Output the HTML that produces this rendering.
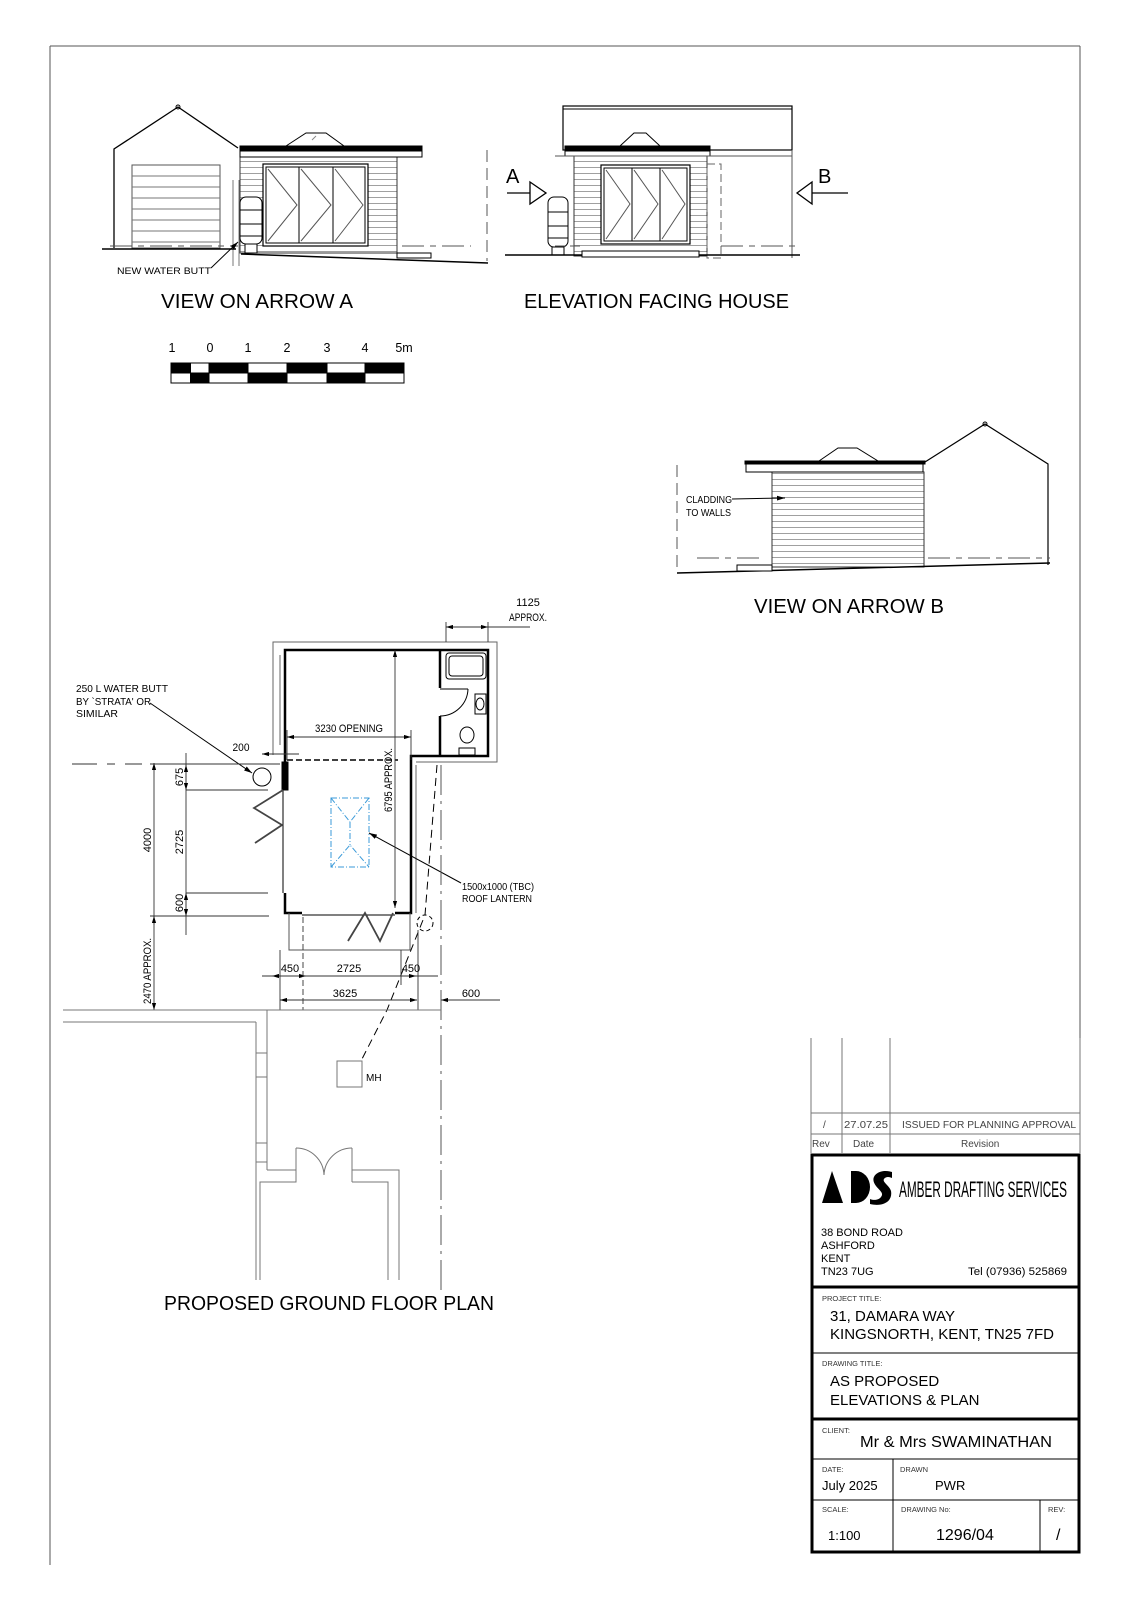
<!DOCTYPE html>
<html><head><meta charset="utf-8"><style>html,body{margin:0;padding:0;background:#fff}svg{display:block}</style></head>
<body>
<svg width="1131" height="1600" viewBox="0 0 1131 1600" xmlns="http://www.w3.org/2000/svg" font-family="'Liberation Sans', sans-serif">
<defs>
<pattern id="clad" width="6" height="6" patternUnits="userSpaceOnUse"><rect width="6" height="6" fill="#fff"/><line x1="0" y1="5.5" x2="6" y2="5.5" stroke="#888" stroke-width="0.8"/></pattern>
<marker id="ar" viewBox="0 0 10 6" refX="10" refY="3" markerWidth="8" markerHeight="5" orient="auto-start-reverse"><path d="M0,0 L10,3 L0,6z" fill="#000"/></marker>
</defs>
<rect width="1131" height="1600" fill="#fff"/>
<g stroke="#555" stroke-width="1" fill="none">
<line x1="50" y1="46" x2="1080" y2="46"/><line x1="50" y1="46" x2="50" y2="1565"/><line x1="1080" y1="46" x2="1080" y2="1038"/>
</g>

<!-- VIEW ON ARROW A -->
<g stroke="#000" fill="none" stroke-width="1">
<polyline points="114,248 114,149 178,107 238,148" stroke-width="1.3"/>
<circle cx="178" cy="107" r="2"/>
<rect x="132" y="165" width="88" height="83" stroke="#555"/>
<g stroke="#777"><line x1="132" y1="176" x2="220" y2="176"/><line x1="132" y1="187" x2="220" y2="187"/><line x1="132" y1="198" x2="220" y2="198"/><line x1="132" y1="209" x2="220" y2="209"/><line x1="132" y1="220" x2="220" y2="220"/><line x1="132" y1="231" x2="220" y2="231"/><line x1="132" y1="242" x2="220" y2="242"/></g>
<rect x="240" y="157" width="157" height="96" fill="url(#clad)" stroke="#333"/>
<rect x="240" y="146" width="182" height="5" fill="#000"/>
<rect x="240" y="151" width="182" height="6" fill="#fff"/>
<polygon points="286,146 306,133 326,133 344,146" fill="#fff"/>
<line x1="312" y1="140" x2="316" y2="136" stroke="#888"/>
<rect x="263" y="164" width="105" height="82" fill="#fff" stroke-width="1.2"/>
<rect x="266" y="167" width="33" height="76"/><rect x="299" y="167" width="34" height="76"/><rect x="333" y="167" width="32" height="76"/>
<polyline points="268,169 297,205 268,241" stroke="#555"/><polyline points="301,169 331,205 301,241" stroke="#555"/><polyline points="335,169 363,205 335,241" stroke="#555"/>
<rect x="240" y="197" width="22" height="47" rx="6" fill="#fff"/>
<line x1="240" y1="210" x2="262" y2="210"/><line x1="240" y1="224" x2="262" y2="224"/><line x1="240" y1="236" x2="262" y2="236"/>
<rect x="245" y="244" width="12" height="9" fill="#fff"/>
<line x1="233" y1="180" x2="233" y2="266" stroke="#777"/><line x1="239" y1="180" x2="239" y2="266" stroke="#777"/>
<line x1="102" y1="249" x2="236" y2="249" stroke-width="1.5"/>
<line x1="110" y1="246" x2="238" y2="246" stroke="#555" stroke-dasharray="22 6 6 6"/>
<line x1="402" y1="246" x2="471" y2="246" stroke="#555" stroke-dasharray="22 6 6 6"/>
<line x1="241" y1="254" x2="488" y2="263" stroke-width="1.5"/>
<rect x="397" y="253" width="34" height="5" fill="#fff"/>
<line x1="487" y1="150" x2="487" y2="261" stroke="#555" stroke-dasharray="12 6"/>
<line x1="211" y1="268" x2="238" y2="242" marker-end="url(#ar)"/>
</g>
<text x="117" y="274" font-size="9.5" textLength="94" lengthAdjust="spacingAndGlyphs">NEW WATER BUTT</text>
<text x="161" y="308" font-size="20" textLength="192" lengthAdjust="spacingAndGlyphs">VIEW ON ARROW A</text>

<!-- ELEVATION FACING HOUSE -->
<g stroke="#000" fill="none" stroke-width="1">
<rect x="563" y="106" width="229" height="44" stroke-width="1.2"/><line x1="563" y1="109" x2="792" y2="109"/>
<line x1="792" y1="150" x2="792" y2="258" stroke="#555"/>
<rect x="574" y="156" width="133" height="100" fill="url(#clad)" stroke="#333"/>
<rect x="565" y="146" width="145" height="5" fill="#000"/>
<rect x="565" y="151" width="145" height="5" fill="#fff"/>
<line x1="555" y1="156" x2="792" y2="156" stroke="#555"/>
<polygon points="620,146 634,133 646,133 660,146" fill="#fff"/>
<rect x="707" y="164" width="14" height="94" stroke="#666" stroke-dasharray="8 4"/>
<rect x="601" y="165" width="89" height="79" fill="#fff" stroke-width="1.2"/>
<rect x="604" y="168" width="28" height="73"/><rect x="632" y="168" width="28" height="73"/><rect x="660" y="168" width="27" height="73"/>
<polyline points="606,170 630,204 606,239" stroke="#555"/><polyline points="634,170 658,204 634,239" stroke="#555"/><polyline points="662,170 685,204 662,239" stroke="#555"/>
<rect x="548" y="197" width="20" height="50" rx="6" fill="#fff"/>
<line x1="548" y1="212" x2="568" y2="212"/><line x1="548" y1="226" x2="568" y2="226"/><line x1="548" y1="238" x2="568" y2="238"/>
<rect x="552" y="247" width="12" height="8" fill="#fff"/>
<line x1="505" y1="255" x2="800" y2="255" stroke-width="1.5"/>
<rect x="582" y="251" width="117" height="6" fill="#fff"/>
<line x1="721" y1="246" x2="800" y2="246" stroke="#555" stroke-dasharray="22 6 6 6"/>
<line x1="555" y1="246" x2="582" y2="246" stroke="#555" stroke-dasharray="10 5"/>
<line x1="507" y1="193" x2="530" y2="193" stroke-width="1.3"/>
<polygon points="530,182 546,193 530,204" fill="#fff" stroke-width="1.3"/>
<line x1="812" y1="193" x2="848" y2="193" stroke-width="1.3"/>
<polygon points="812,182 797,193 812,204" fill="#fff" stroke-width="1.3"/>
</g>
<text x="506" y="183" font-size="20">A</text>
<text x="818" y="183" font-size="20">B</text>
<text x="524" y="308" font-size="20" textLength="265" lengthAdjust="spacingAndGlyphs">ELEVATION FACING HOUSE</text>

<!-- SCALE BAR -->
<g font-size="12.5" text-anchor="middle">
<text x="172" y="352">1</text><text x="210" y="352">0</text><text x="248" y="352">1</text><text x="287" y="352">2</text><text x="327" y="352">3</text><text x="365" y="352">4</text><text x="404" y="352">5m</text>
</g>
<g stroke="#000" stroke-width="1">
<rect x="171" y="363" width="233" height="20" fill="#fff"/>
<rect x="171" y="363" width="19.5" height="10" fill="#000"/><rect x="190.5" y="373" width="18.5" height="10" fill="#000"/>
<rect x="209" y="363" width="39" height="10" fill="#000"/><rect x="248" y="373" width="39" height="10" fill="#000"/>
<rect x="287" y="363" width="40" height="10" fill="#000"/><rect x="327" y="373" width="38" height="10" fill="#000"/>
<rect x="365" y="363" width="39" height="10" fill="#000"/>
</g>

<!-- VIEW ON ARROW B -->
<g stroke="#000" fill="none" stroke-width="1">
<rect x="772" y="472" width="152" height="95" fill="url(#clad)" stroke="#333"/>
<rect x="745" y="461" width="180" height="3" fill="#000"/>
<rect x="746" y="464" width="177" height="8" fill="#fff"/>
<polygon points="819,461 838,448 857,448 878,461" fill="#fff"/>
<polyline points="925,462 985,424 1048,464 1048,565" stroke-width="1.2"/>
<circle cx="985" cy="424" r="2"/>
<line x1="677" y1="573" x2="1050" y2="563" stroke-width="1.5"/>
<line x1="677" y1="465" x2="677" y2="573" stroke="#555" stroke-dasharray="12 6"/>
<line x1="697" y1="558" x2="763" y2="558" stroke="#555" stroke-dasharray="22 6 6 6"/>
<line x1="928" y1="558" x2="1050" y2="558" stroke="#555" stroke-dasharray="22 6 6 6"/>
<rect x="737" y="565" width="35" height="6" fill="#fff"/>
<line x1="732" y1="499" x2="785" y2="498" marker-end="url(#ar)"/>
</g>
<text x="686" y="503" font-size="10" textLength="46" lengthAdjust="spacingAndGlyphs">CLADDING</text>
<text x="686" y="516" font-size="10" textLength="45" lengthAdjust="spacingAndGlyphs">TO WALLS</text>
<text x="754" y="613" font-size="20" textLength="190" lengthAdjust="spacingAndGlyphs">VIEW ON ARROW B</text>

<!-- PLAN -->
<g stroke="#000" fill="none" stroke-width="1">
<polyline points="273,755 273,642 497,642 497,762 416,762" stroke="#666"/>
<line x1="280" y1="655" x2="280" y2="745" stroke="#666"/>
<line x1="416" y1="765" x2="416" y2="913" stroke="#666"/>
<g stroke-width="2.5">
<polyline points="285,762 285,650 440,650"/>
<polyline points="440,650 488,650 488,756 411,756 411,913 395,913"/>
<line x1="440" y1="650" x2="440" y2="688"/><line x1="440" y1="716" x2="440" y2="756"/>
<polyline points="285,893 285,913 302,913"/>
</g>
<rect x="282" y="762" width="6" height="28" fill="#000"/>
<line x1="283" y1="790" x2="283" y2="893"/>
<line x1="302" y1="915" x2="395" y2="915"/>
<rect x="446" y="653" width="40" height="26" rx="3"/><rect x="449" y="656" width="34" height="20" rx="3"/>
<line x1="440" y1="689" x2="468" y2="689"/><path d="M468,689 A28,28 0 0 1 440,716"/>
<rect x="475" y="694" width="11" height="20"/><ellipse cx="480" cy="704" rx="4" ry="6"/>
<ellipse cx="467" cy="735" rx="7" ry="8"/><rect x="459" y="748" width="16" height="7"/>
<line x1="287" y1="760" x2="398" y2="760" stroke-width="1.5" stroke-dasharray="6 3"/>
<circle cx="262" cy="777" r="9"/>
<polyline points="283,790 254,808 282,825 255,843" stroke-width="1.8" stroke="#444"/>
<polyline points="348,941 365,913 380,941 393,913" stroke-width="1.8" stroke="#444"/>
<polyline points="289,913 289,950 410,950 410,913" stroke="#555"/>
<g stroke="#3a9ad9" stroke-dasharray="6 2 1 2">
<rect x="331" y="798" width="38" height="69"/>
<polyline points="331,798 350,822 369,798"/><line x1="350" y1="822" x2="350" y2="845"/><polyline points="331,867 350,845 369,867"/>
</g>
<line x1="461" y1="883" x2="369" y2="833" marker-end="url(#ar)"/>
<line x1="150" y1="703" x2="252" y2="773" marker-end="url(#ar)"/>
<polyline points="437,765 425,915 387,1010 361,1061" stroke-dasharray="8 5"/>
<circle cx="425" cy="923" r="8" stroke-dasharray="4 3"/>
<g stroke="#333" stroke-width="0.9">
<line x1="262" y1="754" x2="299" y2="754" marker-start="url(#ar)"/>
<line x1="287" y1="737" x2="411" y2="737" marker-start="url(#ar)" marker-end="url(#ar)"/>
<line x1="287" y1="730" x2="287" y2="760"/><line x1="411" y1="730" x2="411" y2="760"/>
<line x1="395" y1="650" x2="395" y2="908" marker-start="url(#ar)" marker-end="url(#ar)"/>
<line x1="446" y1="627" x2="488" y2="627" marker-start="url(#ar)" marker-end="url(#ar)"/>
<line x1="488" y1="627" x2="530" y2="627"/>
<line x1="446" y1="622" x2="446" y2="642"/><line x1="488" y1="622" x2="488" y2="642"/>
<line x1="154" y1="763" x2="154" y2="1010" marker-start="url(#ar)" marker-end="url(#ar)"/>
<line x1="154" y1="916" x2="154" y2="925" marker-start="url(#ar)"/>
<line x1="186" y1="753" x2="186" y2="935"/>
<line x1="186" y1="765" x2="186" y2="790" marker-start="url(#ar)" marker-end="url(#ar)"/>
<line x1="186" y1="893" x2="186" y2="916" marker-start="url(#ar)" marker-end="url(#ar)"/>
<line x1="72" y1="764" x2="142" y2="764" stroke-dasharray="25 10 8 10"/>
<line x1="150" y1="764" x2="280" y2="764"/>
<line x1="186" y1="790" x2="268" y2="790"/>
<line x1="186" y1="893" x2="268" y2="893"/>
<line x1="150" y1="916" x2="269" y2="916"/>
<line x1="262" y1="976" x2="438" y2="976"/>
<line x1="272" y1="976" x2="306" y2="976" marker-start="url(#ar)" marker-end="url(#ar)"/>
<line x1="400" y1="976" x2="416" y2="976" marker-end="url(#ar)"/>
<line x1="280" y1="1000" x2="417" y2="1000" marker-start="url(#ar)" marker-end="url(#ar)"/>
<line x1="441" y1="1000" x2="500" y2="1000" marker-start="url(#ar)"/>
<line x1="280" y1="950" x2="280" y2="1010"/>
<line x1="303" y1="917" x2="303" y2="1010" stroke-dasharray="6 3"/>
<line x1="401" y1="950" x2="401" y2="985"/>
<line x1="418" y1="930" x2="418" y2="1010"/>
</g>
<line x1="441" y1="765" x2="441" y2="1290" stroke="#555" stroke-dasharray="30 6 3 6"/>
<g stroke="#777">
<line x1="63" y1="1010" x2="441" y2="1010"/>
<line x1="63" y1="1022" x2="256" y2="1022"/>
<line x1="256" y1="1022" x2="256" y2="1280"/>
<line x1="267" y1="1010" x2="267" y2="1170"/>
<rect x="256" y="1053" width="11" height="24"/><rect x="256" y="1143" width="11" height="19"/>
<polyline points="267,1170 296,1170 296,1182 260,1182 260,1280"/>
<polyline points="352,1182 352,1170 399,1170 399,1280"/>
<polyline points="352,1182 388,1182 388,1280"/>
<line x1="296" y1="1148" x2="296" y2="1170"/><path d="M296,1148 A28,28 0 0 1 324,1175"/>
<line x1="352" y1="1148" x2="352" y2="1170"/><path d="M352,1148 A28,28 0 0 0 324,1175"/>
<rect x="337" y="1061" width="25" height="26"/>
</g>
</g>
<g font-size="11" text-anchor="middle">
<text x="241" y="751" textLength="17" lengthAdjust="spacingAndGlyphs">200</text>
<text x="349" y="732" textLength="68" lengthAdjust="spacingAndGlyphs">3230 OPENING</text>
<text x="528" y="606">1125</text><text x="528" y="621" textLength="38" lengthAdjust="spacingAndGlyphs">APPROX.</text>
<text transform="translate(392,780) rotate(-90)" textLength="64" lengthAdjust="spacingAndGlyphs">6795 APPROX.</text>
<text transform="translate(151,840) rotate(-90)">4000</text>
<text transform="translate(151,971) rotate(-90)" textLength="66" lengthAdjust="spacingAndGlyphs">2470 APPROX.</text>
<text transform="translate(183,777) rotate(-90)">675</text>
<text transform="translate(183,842) rotate(-90)">2725</text>
<text transform="translate(183,903) rotate(-90)">600</text>
<text x="290" y="972">450</text><text x="349" y="972">2725</text><text x="411" y="972">450</text>
<text x="345" y="997">3625</text><text x="471" y="997">600</text>
</g>
<g font-size="10.5">
<text x="462" y="890" textLength="72" lengthAdjust="spacingAndGlyphs">1500x1000 (TBC)</text>
<text x="462" y="902" textLength="70" lengthAdjust="spacingAndGlyphs">ROOF LANTERN</text>
</g>
<g font-size="10.5">
<text x="76" y="692" textLength="92" lengthAdjust="spacingAndGlyphs">250 L WATER BUTT</text>
<text x="76" y="705" textLength="75" lengthAdjust="spacingAndGlyphs">BY `STRATA' OR</text>
<text x="76" y="717">SIMILAR</text>
</g>
<text x="366" y="1081" font-size="10">MH</text>
<text x="164" y="1310" font-size="20" textLength="330" lengthAdjust="spacingAndGlyphs">PROPOSED GROUND FLOOR PLAN</text>

<!-- TITLE BLOCK -->
<g stroke="#777" stroke-width="1" fill="none">
<line x1="811" y1="1038" x2="811" y2="1153"/><line x1="842" y1="1038" x2="842" y2="1153"/><line x1="890" y1="1038" x2="890" y2="1153"/><line x1="1080" y1="1038" x2="1080" y2="1153"/>
<line x1="811" y1="1113" x2="1080" y2="1113"/><line x1="811" y1="1134" x2="1080" y2="1134"/>
</g>
<g font-size="10" fill="#444">
<text x="823" y="1128">/</text><text x="844" y="1128" textLength="44" lengthAdjust="spacingAndGlyphs">27.07.25</text>
<text x="902" y="1128" textLength="174" lengthAdjust="spacingAndGlyphs">ISSUED FOR PLANNING APPROVAL</text>
<text x="812" y="1147">Rev</text><text x="853" y="1147">Date</text><text x="961" y="1147">Revision</text>
</g>
<g stroke="#000" fill="none">
<rect x="812" y="1155" width="267" height="397" stroke-width="3"/>
<line x1="812" y1="1287" x2="1079" y2="1287" stroke-width="3"/>
<line x1="812" y1="1353" x2="1079" y2="1353" stroke-width="1"/>
<line x1="812" y1="1419" x2="1079" y2="1419" stroke-width="3"/>
<line x1="812" y1="1459" x2="1079" y2="1459" stroke-width="1"/>
<line x1="812" y1="1500" x2="1079" y2="1500" stroke-width="1"/>
<line x1="893" y1="1459" x2="893" y2="1552" stroke-width="1"/>
<line x1="1040" y1="1500" x2="1040" y2="1552" stroke-width="1"/>
</g>
<polygon points="832,1171 822,1203 843,1203" fill="#000"/>
<path d="M851,1171 L856,1171 A14,16 0 0 1 856,1203 L851,1203 Z" fill="#000"/>
<path d="M892,1172 C880,1168 868,1176 876,1186 C880,1191 884,1193 881,1197 C878,1201 872,1200 870,1199 L870,1204 C882,1207 893,1202 891,1191 C889,1185 882,1182 884,1179 C886,1176 890,1177 892,1178 Z" fill="#000"/>
<text x="899" y="1197" font-size="22" textLength="168" lengthAdjust="spacingAndGlyphs">AMBER DRAFTING SERVICES</text>
<g font-size="11">
<text x="821" y="1236">38 BOND ROAD</text><text x="821" y="1249">ASHFORD</text><text x="821" y="1262">KENT</text><text x="821" y="1275">TN23 7UG</text>
<text x="968" y="1275" textLength="99" lengthAdjust="spacingAndGlyphs">Tel (07936) 525869</text>
</g>
<g font-size="7.5" fill="#333">
<text x="822" y="1301">PROJECT TITLE:</text><text x="822" y="1366">DRAWING TITLE:</text><text x="822" y="1433">CLIENT:</text>
<text x="822" y="1472">DATE:</text><text x="900" y="1472">DRAWN</text>
<text x="822" y="1512">SCALE:</text><text x="901" y="1512">DRAWING No:</text><text x="1048" y="1512">REV:</text>
</g>
<g font-size="15">
<text x="830" y="1321">31, DAMARA WAY</text>
<text x="830" y="1339" textLength="224" lengthAdjust="spacingAndGlyphs">KINGSNORTH, KENT, TN25 7FD</text>
<text x="830" y="1386">AS PROPOSED</text>
<text x="830" y="1405">ELEVATIONS &amp; PLAN</text>
<text x="860" y="1447" font-size="16" textLength="192" lengthAdjust="spacingAndGlyphs">Mr &amp; Mrs SWAMINATHAN</text>
</g>
<g font-size="13">
<text x="822" y="1490">July 2025</text><text x="935" y="1490">PWR</text>
<text x="828" y="1540">1:100</text><text x="936" y="1540" font-size="16">1296/04</text><text x="1056" y="1540" font-size="16">/</text>
</g>
</svg>
</body></html>
